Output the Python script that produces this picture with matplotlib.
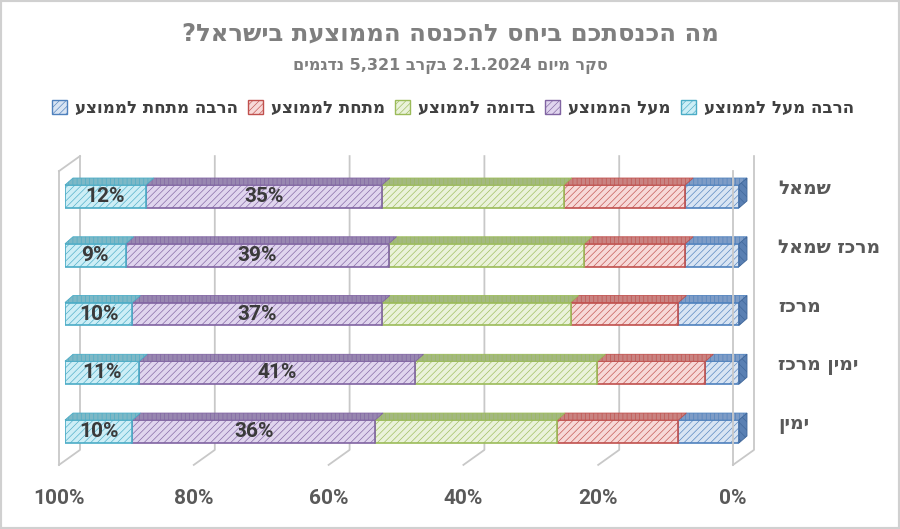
import re
import matplotlib
matplotlib.use("Agg")
import matplotlib.pyplot as plt
import matplotlib.patches as mpatches
from matplotlib.transforms import ScaledTranslation

plt.rcParams['font.family'] = ['DejaVu Sans']
plt.rcParams['hatch.linewidth'] = 0.45
NUM_FONT = ['Roboto', 'DejaVu Sans']

# data (percent per group, logical Hebrew order)
title = "מה הכנסתכם ביחס להכנסה הממוצעת בישראל?"
subtitle = "סקר מיום 2.1.2024 בקרב 5,321 נדגמים"
categories = ["שמאל", "מרכז שמאל", "מרכז", "ימין מרכז", "ימין"]
series_names = ["הרבה מעל לממוצע", "מעל הממוצע", "בדומה לממוצע", "מתחת לממוצע", "הרבה מתחת לממוצע"]
much_above = [12, 9, 10, 11, 10]
above = [35, 39, 37, 41, 36]
similar = [27, 29, 28, 27, 27]
below = [18, 15, 16, 16, 18]
much_below = [8, 8, 9, 5, 9]
x_ticks = [100, 80, 60, 40, 20, 0]

fills = ["#cdeef6", "#e0d5ee", "#eaf2da", "#f7d9d8", "#d8e4f3"]
accents = ["#4bacc6", "#8064a2", "#9bbb59", "#c0504d", "#4f81bd"]
tops = ["#7db8c6", "#9887b0", "#a3b880", "#c98381", "#7e9cc6"]


def rtl(s):
  """ turn a logical Hebrew string into visual order (numbers stay LTR) """
  num = r'\d[\d.,]*\d|\d'
  parts = re.split('(' + num + ')', s)
  out = []
  for p in reversed(parts):
    if p and re.fullmatch(num, p):
      out.append(p)
    else:
      out.append(p[::-1])
  return ''.join(out)


W, H = 900, 529
fig = plt.figure(figsize=(W / 100, H / 100), dpi=100)
fig.patch.set_facecolor("white")
fig.add_artist(mpatches.Rectangle((0, 0), 1, 1, transform=fig.transFigure,
                                  fill=False, edgecolor="#d0d0d0", linewidth=3))

ax_l, ax_r, ax_t, ax_b = 65, 739, 167.1, 460.9
ax = fig.add_axes([ax_l / W, 1 - ax_b / H, (ax_r - ax_l) / W, (ax_b - ax_t) / H])
ax.set_xlim(100, 0)
ax.set_ylim(4.5, -0.5)
for s in ax.spines.values():
  s.set_visible(False)

# pixel -> data helpers for the fake 3D depth
PX_X = (ax_r - ax_l) / 100.0
PX_Y = (ax_b - ax_t) / 5.0


def shift(x, y, dx, dy):
  # dx px to the right, dy px upwards
  return x - dx / PX_X, y - dy / PX_Y


FRONT = (-6, -4)
BACK = (15, 11)
DEPTH = (8, 7)

# walls and gridlines
grid_c = "#c8c8c8"
for v in x_ticks:
  bx0, by0 = shift(v, -0.5, *BACK)
  bx1, by1 = shift(v, 4.5, *BACK)
  fx1, fy1 = shift(v, 4.5, *FRONT)
  ax.plot([bx0, bx1, fx1], [by0, by1, fy1], color=grid_c, lw=1.3, clip_on=False, zorder=1)
for v in (100, 0):
  fx0, fy0 = shift(v, -0.5, *FRONT)
  fx1, fy1 = shift(v, 4.5, *FRONT)
  ax.plot([fx0, fx1], [fy0, fy1], color=grid_c, lw=1.3, clip_on=False, zorder=6)
fx0, fy0 = shift(100, -0.5, *FRONT)
bx0, by0 = shift(100, -0.5, *BACK)
ax.plot([fx0, bx0], [fy0, by0], color=grid_c, lw=1.3, clip_on=False, zorder=1)

# stacked bars, stacked from 0% on the right
stack = [much_below, below, similar, above, much_above]
bar_h = 0.39
y_pos = list(range(len(categories)))
left = [0] * len(categories)
containers = {}
for k in range(4, -1, -1):
  vals = stack[4 - k]
  bars = ax.barh(y_pos, vals, left=left, height=bar_h, color=fills[k], edgecolor=accents[k],
                 hatch='/////', linewidth=1.2, zorder=3)
  containers[k] = bars
  for i, (l, w) in enumerate(zip(left, vals)):
    yt = i - bar_h / 2
    p1 = shift(l, yt, *DEPTH)
    p2 = shift(l + w, yt, *DEPTH)
    ax.add_patch(mpatches.Polygon([(l, yt), (l + w, yt), p2, p1], closed=True,
                                  facecolor=tops[k], edgecolor=accents[k], hatch='||||',
                                  linewidth=0.6, zorder=4, clip_on=False))
    if l == 0:
      yb = i + bar_h / 2
      q1 = shift(0, yt, *DEPTH)
      q2 = shift(0, yb, *DEPTH)
      ax.add_patch(mpatches.Polygon([(0, yt), (0, yb), q2, q1], closed=True,
                                    facecolor="#5a80b3", edgecolor="#3f6699", hatch='\\\\\\\\',
                                    linewidth=0.6, zorder=4, clip_on=False))
  left = [a + b for a, b in zip(left, vals)]

# value labels on the two first series
for k, vals in ((0, much_above), (1, above)):
  ax.bar_label(containers[k], labels=[f"{v}%" for v in vals], label_type='center',
               fontsize=15, fontweight='bold', color="#3a3a3a", zorder=7, family=NUM_FONT)

# axes ticks
ax.set_xticks(x_ticks)
ax.set_xticklabels([f"{v}%" for v in x_ticks], fontsize=15, fontweight='bold', color="#595959",
                   family=NUM_FONT)
ax.tick_params(axis='x', length=0, pad=20)
for label in ax.get_xticklabels():
  label.set_transform(label.get_transform() + ScaledTranslation(-6 / 100, 0, fig.dpi_scale_trans))

ax.yaxis.tick_right()
ax.set_yticks(y_pos)
ax.set_yticklabels([rtl(c) for c in categories], fontsize=13.5, fontweight='bold', color="#595959")
ax.tick_params(axis='y', length=0, pad=28)
for label in ax.get_yticklabels():
  label.set_transform(label.get_transform() + ScaledTranslation(0, 10 / 100, fig.dpi_scale_trans))

# titles
fig.text(0.5, 1 - 33 / H, rtl(title), ha='center', va='center', fontsize=17.5,
         fontweight='bold', color="#7f7f7f")
fig.text(0.5, 1 - 66 / H, rtl(subtitle), ha='center', va='center', fontsize=11.5,
         fontweight='bold', color="#7f7f7f")

# legend, right to left like the original
handles = [mpatches.Patch(facecolor=fills[k], edgecolor=accents[k], hatch='/////', linewidth=1.0)
           for k in range(4, -1, -1)]
labels = [rtl(series_names[k]) for k in range(4, -1, -1)]
fig.legend(handles, labels, loc='center', bbox_to_anchor=(0.503, 1 - 108 / H), ncol=5,
           frameon=False, handlelength=0.9, handleheight=0.9, handletextpad=0.48,
           columnspacing=0.6, prop={'size': 12, 'weight': 'bold'}, labelcolor="#404040")

fig.savefig("out.png", dpi=100)
